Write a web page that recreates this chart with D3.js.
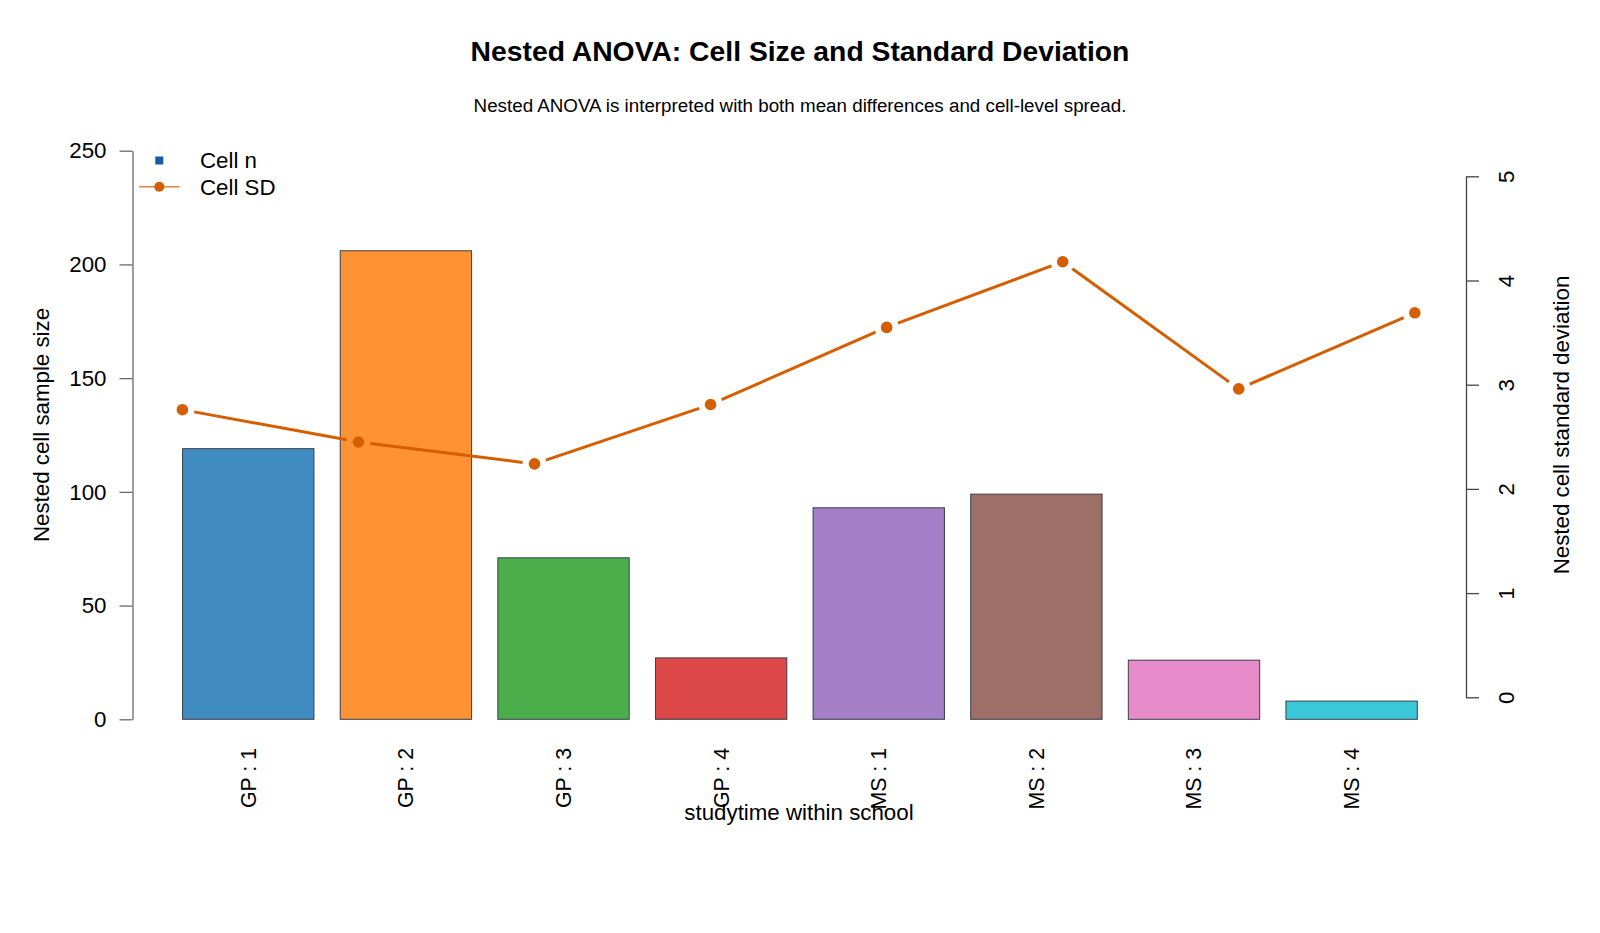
<!DOCTYPE html>
<html>
<head>
<meta charset="utf-8">
<script src="https://cdn.jsdelivr.net/npm/d3@7"></script>
<style>
  html, body { margin: 0; padding: 0; background: #ffffff; }
  svg { display: block; font-family: "Liberation Sans", Arial, Helvetica, sans-serif; }
</style>
</head>
<body>
<svg id="chart" width="1600" height="933"></svg>
<script>
// ---- data ----
const categories = ["GP : 1", "GP : 2", "GP : 3", "GP : 4", "MS : 1", "MS : 2", "MS : 3", "MS : 4"];
const cellN = [119, 206, 71, 27, 93, 99, 26, 8];
const cellSD = [2.76, 2.45, 2.24, 2.81, 3.55, 4.18, 2.96, 3.69];
const nTicks = [0, 50, 100, 150, 200, 250];
const sdTicks = [0, 1, 2, 3, 4, 5];
const barColors = ["#1f77b4", "#ff7f0e", "#2ca02c", "#d62728", "#9467bd", "#8c564b", "#e377c2", "#17becf"];
const titleText = "Nested ANOVA: Cell Size and Standard Deviation";
const subtitleText = "Nested ANOVA is interpreted with both mean differences and cell-level spread.";
const xTitle = "studytime within school";
const yLeftTitle = "Nested cell sample size";
const yRightTitle = "Nested cell standard deviation";
const legendLabels = ["Cell n", "Cell SD"];

// ---- layout ----
const svg = d3.select("#chart");
const lineColor = "#D55E00";
const fontMain = 22.3;

const x = d3.scaleBand().domain(categories).range([182.6, 1417.3]).paddingInner(1 / 6).paddingOuter(0);
const xp = d3.scalePoint().domain(categories).range([182.4, 1414.8]);
const yL = d3.scaleLinear().domain([0, 250]).range([719.3, 150.7]);
const yR = d3.scaleLinear().domain([0, 5]).range([697.3, 176.3]);

// title & subtitle
svg.append("text").attr("x", 800).attr("y", 61).attr("text-anchor", "middle")
  .attr("font-size", 28.3).attr("font-weight", "bold").attr("fill", "#000").text(titleText);
svg.append("text").attr("x", 800).attr("y", 111.5).attr("text-anchor", "middle")
  .attr("font-size", 18.8).attr("fill", "#000").text(subtitleText);

// bars
svg.append("g").selectAll("rect").data(categories).join("rect")
  .attr("x", d => x(d))
  .attr("y", (d, i) => yL(cellN[i]))
  .attr("width", x.bandwidth())
  .attr("height", (d, i) => yL(0) - yL(cellN[i]))
  .attr("fill", (d, i) => barColors[i])
  .attr("fill-opacity", 0.85)
  .attr("stroke", "#3a3f4a")
  .attr("stroke-width", 1);

// left axis
const axL = svg.append("g").attr("transform", "translate(132.5,0)")
  .call(d3.axisLeft(yL).tickValues(nTicks).tickFormat(d3.format("d")).tickSize(13).tickPadding(13).tickSizeOuter(0));
axL.select(".domain").attr("stroke", "#6a6a6a").attr("stroke-width", 1.3);
axL.selectAll(".tick line").attr("stroke", "#6a6a6a").attr("stroke-width", 1.3);
axL.selectAll(".tick text").attr("font-size", fontMain).attr("fill", "#000")
  .attr("font-family", "Liberation Sans, Arial, sans-serif");

// right axis
const axR = svg.append("g").attr("transform", "translate(1466,0)")
  .call(d3.axisRight(yR).tickValues(sdTicks).tickFormat(d3.format("d")).tickSize(13).tickSizeOuter(0));
axR.select(".domain").attr("stroke", "#444").attr("stroke-width", 1.3);
axR.selectAll(".tick line").attr("stroke", "#444").attr("stroke-width", 1.3);
axR.selectAll(".tick text")
  .attr("font-size", fontMain).attr("fill", "#000")
  .attr("font-family", "Liberation Sans, Arial, sans-serif")
  .attr("x", null)
  .attr("text-anchor", "middle")
  .attr("transform", "translate(40,0) rotate(-90)")
  .attr("dy", "0.35em");

// x labels (rotated)
svg.append("g").selectAll("text").data(categories).join("text")
  .attr("transform", d => `translate(${x(d) + x.bandwidth() / 2},748) rotate(-90)`)
  .attr("text-anchor", "end")
  .attr("dy", "0.35em")
  .attr("font-size", 21.3)
  .attr("fill", "#000")
  .text(d => d);

// axis titles
svg.append("text").attr("x", 799).attr("y", 820).attr("text-anchor", "middle")
  .attr("font-size", fontMain).attr("fill", "#000").text(xTitle);
svg.append("text").attr("transform", "translate(41,425) rotate(-90)")
  .attr("text-anchor", "middle").attr("dy", "0.35em")
  .attr("font-size", fontMain).attr("fill", "#000").text(yLeftTitle);
svg.append("text").attr("transform", "translate(1561,425) rotate(-90)")
  .attr("text-anchor", "middle").attr("dy", "0.35em")
  .attr("font-size", fontMain).attr("fill", "#000").text(yRightTitle);

// SD line (type "b": segments with gaps around points)
const pts = categories.map((c, i) => [xp(c), yR(cellSD[i])]);
const gap = 12;
const segs = d3.pairs(pts).map(([a, b]) => {
  const dx = b[0] - a[0], dy = b[1] - a[1];
  const len = Math.hypot(dx, dy);
  const ux = dx / len, uy = dy / len;
  return [[a[0] + ux * gap, a[1] + uy * gap], [b[0] - ux * gap, b[1] - uy * gap]];
});
svg.append("g").selectAll("line").data(segs).join("line")
  .attr("x1", d => d[0][0]).attr("y1", d => d[0][1])
  .attr("x2", d => d[1][0]).attr("y2", d => d[1][1])
  .attr("stroke", lineColor).attr("stroke-width", 3).attr("stroke-linecap", "butt");
svg.append("g").selectAll("circle").data(pts).join("circle")
  .attr("cx", d => d[0]).attr("cy", d => d[1]).attr("r", 5.8)
  .attr("fill", lineColor);

// legend
const lg = svg.append("g");
lg.append("rect").attr("x", 155.3).attr("y", 156.5).attr("width", 8).attr("height", 8).attr("fill", "#1a5aa0");
lg.append("line").attr("x1", 139).attr("x2", 179.5).attr("y1", 186.7).attr("y2", 186.7)
  .attr("stroke", lineColor).attr("stroke-opacity", 0.75).attr("stroke-width", 1.5);
lg.append("circle").attr("cx", 159.3).attr("cy", 186.7).attr("r", 5).attr("fill", lineColor);
lg.selectAll("text.lbl").data(legendLabels).join("text")
  .attr("class", "lbl")
  .attr("x", 200).attr("y", (d, i) => [168, 194.5][i])
  .attr("font-size", fontMain).attr("fill", "#000").text(d => d);
</script>
</body>
</html>
